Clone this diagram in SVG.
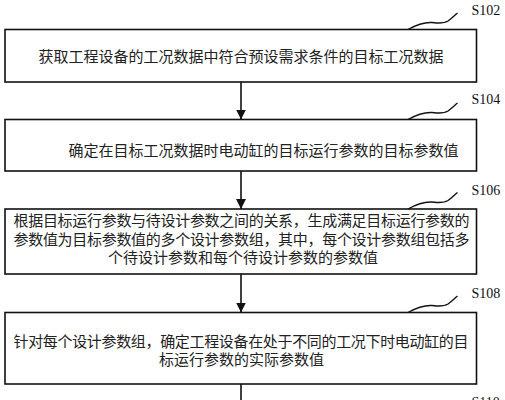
<svg xmlns="http://www.w3.org/2000/svg" width="505" height="400" viewBox="0 0 505 400">
<defs>
<style>
.box{fill:#fff;stroke:#111;stroke-width:1.6}
.t{font-family:"Noto Sans CJK SC","Noto Sans",sans-serif;font-size:15px;fill:#222}
.lbl{font-family:"Liberation Serif",serif;font-size:14px;fill:#111}
.sq{fill:none;stroke:#111;stroke-width:1.4}
.arr{stroke:#111;stroke-width:1.6;fill:none}
</style>
<marker id="ah" viewBox="0 0 10 10" refX="10" refY="5" markerWidth="10" markerHeight="10" markerUnits="userSpaceOnUse" orient="auto">
<path d="M0,0 L10,5 L0,10 Z" fill="#111"/>
</marker>
</defs>
<rect width="505" height="400" fill="#fff"/>
<g id="connectors">
<line class="arr" x1="241" y1="82" x2="241" y2="119.5" marker-end="url(#ah)"/>
<line class="arr" x1="241" y1="171" x2="241" y2="209" marker-end="url(#ah)"/>
<line class="arr" x1="241" y1="274" x2="241" y2="312.5" marker-end="url(#ah)"/>
<line class="arr" x1="241" y1="384" x2="241" y2="402"/>
</g>
<g id="s102">
<rect class="box" x="5" y="29.5" width="471.5" height="52.5"/>
<text class="t" x="241" y="62" text-anchor="middle">获取工程设备的工况数据中符合预设需求条件的目标工况数据</text>
<path class="sq" d="M408,29.5 C416,25 424,22 432,22.5 C438,23 443,24 448,21 C452,18 455,15 457.5,13"/>
<text class="lbl" x="471.5" y="15">S102</text>
</g>
<g id="s104">
<rect class="box" x="5" y="119.5" width="471.5" height="51.5"/>
<text class="t" x="68.5" y="156">确定在目标工况数据时电动缸的目标运行参数的目标参数值</text>
<path class="sq" d="M408,119.5 C416,115 424,112 432,112.5 C438,113 443,114 448,111 C452,108 455,105 457.5,103"/>
<text class="lbl" x="471.5" y="104">S104</text>
</g>
<g id="s106">
<rect class="box" x="5" y="209" width="471.5" height="65"/>
<text class="t" x="13.5" y="226" textLength="456" lengthAdjust="spacing">根据目标运行参数与待设计参数之间的关系，生成满足目标运行参数的</text>
<text class="t" x="13.5" y="244.5" textLength="456" lengthAdjust="spacing">参数值为目标参数值的多个设计参数组，其中，每个设计参数组包括多</text>
<text class="t" x="243" y="263" text-anchor="middle">个待设计参数和每个待设计参数的参数值</text>
<path class="sq" d="M408,209 C416,204.5 424,201.5 432,202 C438,202.5 443,203.5 448,200.5 C452,197.5 455,194.5 457.5,192.5"/>
<text class="lbl" x="471.5" y="195">S106</text>
</g>
<g id="s108">
<rect class="box" x="5" y="312.5" width="471.5" height="71.5"/>
<text class="t" x="13.5" y="347" textLength="455" lengthAdjust="spacing">针对每个设计参数组，确定工程设备在处于不同的工况下时电动缸的目</text>
<text class="t" x="241.5" y="365" text-anchor="middle">标运行参数的实际参数值</text>
<path class="sq" d="M408,312.5 C416,308 424,305 432,305.5 C438,306 443,307 448,304 C452,301 455,298 457.5,296"/>
<text class="lbl" x="471.5" y="298">S108</text>
</g>
<g id="s110">
<text class="lbl" x="471.5" y="407">S110</text>
</g>
</svg>
